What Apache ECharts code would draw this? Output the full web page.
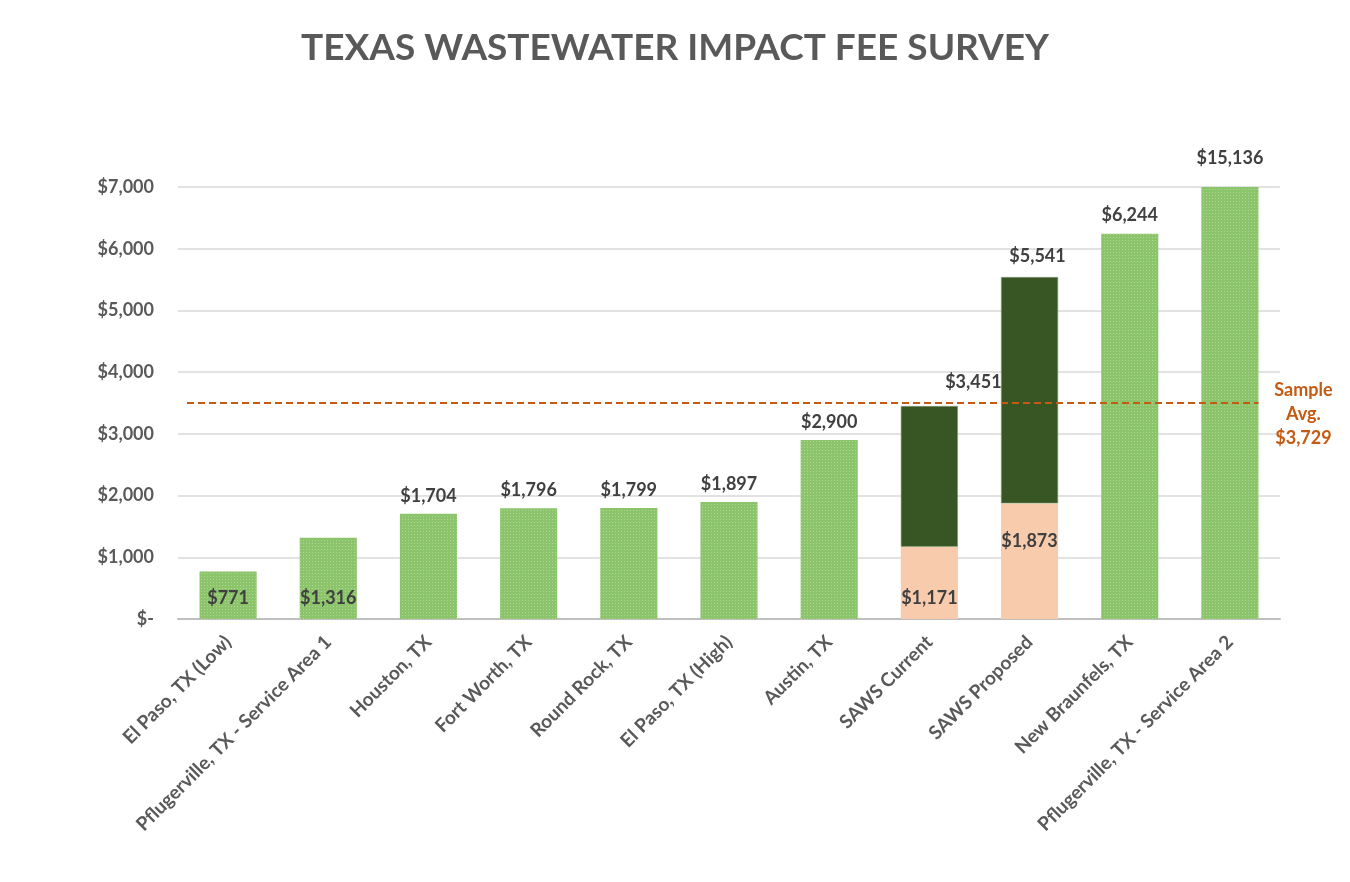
<!DOCTYPE html>
<html>
<head>
<meta charset="utf-8">
<script src="https://cdn.jsdelivr.net/npm/echarts@6/dist/echarts.min.js"></script>
<style>
html,body{margin:0;padding:0;background:#fff;}
#chart{width:1350px;height:882px;}
</style>
</head>
<body>
<div id="chart"></div>
<script>
const categories = ["El Paso, TX (Low)","Pflugerville, TX - Service Area 1","Houston, TX","Fort Worth, TX","Round Rock, TX","El Paso, TX (High)","Austin, TX","SAWS Current","SAWS Proposed","New Braunfels, TX","Pflugerville, TX - Service Area 2"];
const totalFees = [771,1316,1704,1796,1799,1897,2900,3451,5541,6244,15136];
const sawsBase = [null,null,null,null,null,null,null,1171,1873,null,null];
const sampleAvgLine = 3500;
const sampleAvgLabel = "$3,729";
const yTicks = [0,1000,2000,3000,4000,5000,6000,7000];

const FONT = "Lato";
const LABEL_COLOR = "#404040";
const AXIS_COLOR = "#595959";
const BAR_FRAC = 0.57;

function money(v){ return v === 0 ? "$-" : "$" + v.toLocaleString("en-US"); }

const greenData = totalFees.map((v,i) => {
  if (sawsBase[i] != null) return null;
  const inside = v < 1500;
  const clipped = v > yTicks[yTicks.length-1];
  return {
    value: v,
    label: { show: true, position: inside ? "insideBottom" : "top", distance: inside ? 12 : (clipped ? 20 : 9) }
  };
});
const peachData = sawsBase.map((v,i) => {
  if (v == null) return null;
  const high = v > 1500;
  return { value: v, label: { show: true, position: high ? "insideTop" : "insideBottom", distance: high ? 29 : 12 } };
});
const firstSaws = sawsBase.findIndex(v => v != null);
const darkData = sawsBase.map((v,i) => {
  if (v == null) return null;
  const first = i === firstSaws;
  return { value: totalFees[i] - v, total: totalFees[i],
    label: { show: true, position: "top", distance: first ? 15 : 12, offset: first ? [44, 0] : [8, 0] } };
});

const labelStyle = { fontFamily: FONT, fontWeight: "bold", fontSize: 18, color: LABEL_COLOR };

// average line spans from just left of first bar to right edge of last bar
const avgStart = -0.41;
const avgEnd = categories.length - 1 + BAR_FRAC / 2;

const chart = echarts.init(document.getElementById("chart"), null, {renderer: "canvas"});
chart.setOption({
  animation: false,
  backgroundColor: "#fff",
  title: {
    text: "TEXAS WASTEWATER IMPACT FEE SURVEY",
    left: "center", top: 25,
    textStyle: { fontFamily: FONT, fontWeight: "bold", fontSize: 37, color: AXIS_COLOR }
  },
  grid: { left: 178, right: 70, top: 187, bottom: 263, containLabel: false },
  xAxis: [{
    type: "category",
    data: categories,
    axisTick: { show: false },
    axisLine: { lineStyle: { color: "#bfbfbf", width: 2 } },
    axisLabel: { rotate: 45, interval: 0, fontFamily: FONT, fontWeight: "bold", fontSize: 19, color: AXIS_COLOR, margin: 20 }
  }, {
    type: "value", show: false, min: -0.5, max: categories.length - 0.5
  }],
  yAxis: {
    type: "value",
    min: 0, max: 7000, interval: 1000,
    axisLine: { show: false },
    axisTick: { show: false },
    splitLine: { lineStyle: { color: "#d9d9d9", width: 1.5 } },
    axisLabel: { fontFamily: FONT, fontWeight: "bold", fontSize: 18, color: AXIS_COLOR, margin: 24, formatter: money }
  },
  series: [
    {
      name: "Fee", type: "bar", stack: "fee", barWidth: (BAR_FRAC*100) + "%",
      data: greenData,
      itemStyle: { color: "#8cc46b", decal: { symbol: "rect", symbolSize: 1, color: "rgba(220,240,200,0.45)", dashArrayX: [1, 2], dashArrayY: [1, 2], rotation: 0 } },
      label: Object.assign({ formatter: p => money(p.value) }, labelStyle)
    },
    {
      name: "SAWS base", type: "bar", stack: "fee", barWidth: (BAR_FRAC*100) + "%",
      data: peachData,
      itemStyle: { color: "#f8cbad" },
      label: Object.assign({ formatter: p => money(p.value) }, labelStyle)
    },
    {
      name: "SAWS increment", type: "bar", stack: "fee", barWidth: (BAR_FRAC*100) + "%",
      data: darkData,
      itemStyle: { color: "#375623", borderColor: "#8a9d7a", borderWidth: 0.6 },
      label: Object.assign({ formatter: p => money(p.data.total) }, labelStyle)
    },
    {
      name: "Sample Avg.", type: "line", xAxisIndex: 1, data: [],
      markLine: {
        silent: true, symbol: "none",
        lineStyle: { color: "#c55a11", type: [7, 4], width: 2 },
        label: {
          show: true, position: "end", distance: 45, align: "center",
          formatter: "Sample\nAvg.\n" + sampleAvgLabel,
          fontFamily: FONT, fontWeight: "bold", fontSize: 18, lineHeight: 24, color: "#c55a11",
          offset: [0, 11]
        },
        data: [[ { coord: [avgStart, sampleAvgLine] }, { coord: [avgEnd, sampleAvgLine] } ]]
      }
    }
  ]
});
</script>
</body>
</html>
